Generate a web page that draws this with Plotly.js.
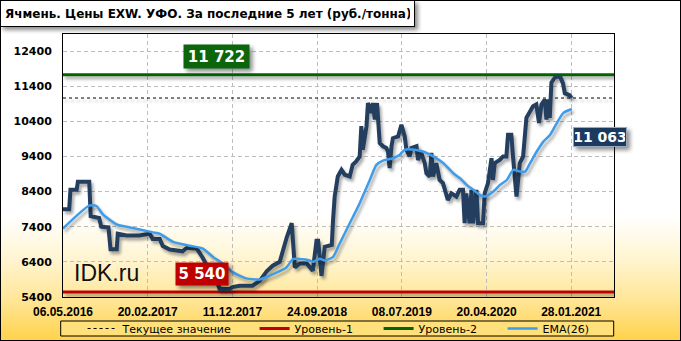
<!DOCTYPE html>
<html>
<head>
<meta charset="utf-8">
<script src="https://cdn.plot.ly/plotly-3.0.1.min.js"></script>
<style>
  html, body { margin: 0; padding: 0; }
  #wrap { position: relative; width: 681px; height: 341px;
    background: linear-gradient(to bottom, #ffffff 0px, #ffffff 215px, #fff6d6 255px, #ffe697 300px, #ffd24a 341px); }
  #chart { width: 681px; height: 341px; }
  #frame { position: absolute; left: 0; top: 0; width: 681px; height: 341px; box-sizing: border-box;
    border: 1px solid #000; pointer-events: none; }
  .scatterlayer .trace path.js-line { filter: drop-shadow(2px 3px 1.5px rgba(0,0,0,0.35)); }
  .annotation .bg { filter: drop-shadow(3px 3px 2px rgba(0,0,0,0.45)); }
</style>
</head>
<body>
<div id="wrap"><div id="chart"></div><div id="frame"></div></div>
<script>
// ---- data (x = weekly index from 06.05.2016) ----
const priceWeeks = [0,3.0,3.6,6.6,7.2,12.7,13.4,17.5,18.5,22,23,26,26.5,30.8,37,42,43.4,46.8,48.3,51.7,57.9,60,64.7,67.6,71,74.4,75.8,80.7,82.1,85.5,91.8,95.2,98.6,101.5,104.9,106.3,108.3,110.7,112.2,114.6,118,120.9,122.7,123.5,125.1,126.7,130.1,130.7,131.5,133,134.8,136.4,138.8,140.2,141.8,143.6,144.4,145.1,146.9,147.6,149.3,150,150.9,152,153.3,154.9,156.5,157.3,158.1,159,159.7,162.2,163.8,165.4,166.2,167.8,168.6,171.1,171.8,173.4,175.1,175.9,177.5,178.3,179.1,180.7,182.3,183.9,184.8,185.6,186.3,188,190.4,192,193.6,194.4,195.2,196.8,197.7,198.5,200.1,200.9,203.3,204.1,205.7,207.4,208.1,209,211.4,213,214.6,215.4,217,217.8,219.5,221.1,222.7,224.3,225.9,227.5,229.1,230.4,231.6,233.2,234,234.8,235.6,236.4,238,239.6,240.8,242,242.9,245.3,246.1];
const priceValues = [7900,7900,8450,8450,8680,8680,7700,7650,7400,7380,6760,6760,7200,7150,7150,7200,7050,7050,6850,6750,6700,6800,6780,6520,6140,5860,5630,5630,5680,5720,5720,5860,6130,6290,6400,6700,7100,7500,6240,6350,6350,6150,7000,7000,6000,6830,6880,7590,8260,8830,9020,8880,8830,9160,9250,9400,10260,9590,10260,10920,10640,10920,10450,10920,9780,9690,9640,9540,9070,9690,9920,9970,10300,9970,9600,9400,9640,9690,9300,9500,9210,8920,8830,9500,8830,9210,8730,8640,8450,8210,8160,8350,8260,8450,8450,7500,8350,7500,8450,7500,8450,7500,7500,8350,8640,9350,8730,9210,9300,9400,9400,10020,10020,9400,8260,9210,9400,10500,10640,10830,10880,10350,10880,11020,10450,11020,10500,11500,11640,11680,11650,11480,11200,11140,11063];
const emaWeeks = [0,12.7,16.2,19.2,25.9,30.8,43.6,46.8,53.3,61.3,67.7,72.6,77.4,82.3,88.7,95.2,101.6,108.1,111.3,114.6,119.4,121,124.3,126.7,130.7,133.9,138.8,143.6,148.5,151.7,154.9,159.8,163,165.4,170.3,174.3,179.2,184.1,188.9,192.2,195.4,198.6,201.9,204.3,208.3,211.5,214.8,218,221.2,223.7,226.1,229.3,232.6,235.8,239,242.2,246.3];
const emaValues = [7350,8000,7990,7760,7470,7400,7240,7200,6970,6860,6780,6540,6350,6100,5930,5900,6050,6240,6480,6480,6440,6400,6490,6440,6540,6920,7500,8070,8730,9160,9280,9350,9450,9590,9590,9540,9400,9210,8920,8780,8590,8450,8300,8260,8400,8590,8730,9020,8970,8970,9210,9540,9830,10020,10350,10640,10750];
const tickWeeks = [0,41,82,123,164,205,246];
const tickLabels = ["06.05.2016","20.02.2017","11.12.2017","24.09.2018","08.07.2019","20.04.2020","28.01.2021"];
const yTicks = [5400,6400,7400,8400,9400,10400,11400,12400];
const level1 = 5540, level2 = 11722, currentValue = 11063;
const xMax = 266.7, yMin = 5400, yMax = 12885;
const seriesNames = ["Текущее значение","Уровень-1","Уровень-2","EMA(26)"];
const titleText = "Ячмень. Цены EXW. УФО. За последние 5 лет (руб./тонна)";
const fmt = v => String(v).replace(/\B(?=(\d{3})+(?!\d))/g, " ");

// ---- geometry helpers (pixels -> paper) ----
const W = 681, H = 341, mL = 63, mR = 67, mT = 34, mB = 44;
const pw = W - mL - mR, ph = H - mT - mB;
const px = x => (x - mL) / pw;
const py = y => (H - mB - y) / ph;

const traces = [
  {x:[0,xMax], y:[currentValue,currentValue], mode:'lines', name:seriesNames[0],
   line:{color:'#000', width:1, dash:'3px,3px'}, legendwidth:127, hoverinfo:'skip'},
  {x:[0,xMax], y:[level1,level1], mode:'lines', name:seriesNames[1],
   line:{color:'#C00000', width:3}, legendwidth:79, hoverinfo:'skip'},
  {x:[0,xMax], y:[level2,level2], mode:'lines', name:seriesNames[2],
   line:{color:'#006400', width:3}, legendwidth:79, hoverinfo:'skip'},
  {x:priceWeeks, y:priceValues, mode:'lines', showlegend:false,
   line:{color:'#233E5F', width:4, shape:'linear'}},
  {x:emaWeeks, y:emaValues, mode:'lines', name:seriesNames[3],
   line:{color:'#3E9CEB', width:2.5, shape:'spline', smoothing:0.6}}
];

const boxFont = {family:'DejaVu Sans', size:15, color:'#fff', weight:'bold'};
const layout = {
  width:W, height:H,
  margin:{l:mL, r:mR, t:mT, b:mB, pad:0, autoexpand:false},
  paper_bgcolor:'rgba(0,0,0,0)', plot_bgcolor:'rgba(0,0,0,0)',
  showlegend:true,
  xaxis:{range:[0,xMax], tickmode:'array', tickvals:tickWeeks, ticktext:tickLabels,
    showgrid:true, gridcolor:'#BDBDBD', griddash:'4px,3px', gridwidth:1,
    showline:true, linecolor:'#000', linewidth:1, mirror:true, zeroline:false,
    ticks:'', ticklabelstandoff:4, automargin:false,
    tickfont:{family:'Liberation Sans', size:12, color:'#000', weight:'bold'}},
  yaxis:{range:[yMin,yMax], tickmode:'array', tickvals:yTicks, ticktext:yTicks.map(String),
    showgrid:true, gridcolor:'#BDBDBD', griddash:'4px,3px', gridwidth:1,
    showline:true, linecolor:'#000', linewidth:1, mirror:true, zeroline:false,
    ticks:'', ticklabelstandoff:8, automargin:false,
    tickfont:{family:'DejaVu Sans', size:11, color:'#000', weight:'bold'}},
  yaxis2:{range:[yMin,yMax], overlaying:'y', side:'right', tickmode:'array', tickvals:yTicks,
    ticktext:yTicks.map(String), showgrid:false, zeroline:false, showline:false, ticks:'',
    ticklabelstandoff:8, automargin:false,
    tickfont:{family:'DejaVu Sans', size:11, color:'#000', weight:'bold'}},
  legend:{orientation:'h', x:px(82.6), xanchor:'left', y:py(328.5), yanchor:'middle',
    bgcolor:'rgba(0,0,0,0)', borderwidth:0,
    font:{family:'DejaVu Sans', size:11, color:'#000'}, itemclick:false},
  shapes:[
    {type:'rect', xref:'paper', yref:'paper', x0:px(60.7), x1:px(613.7), y0:py(336), y1:py(321),
     fillcolor:'#FFE07A', line:{color:'#000', width:1}, layer:'above'}
  ],
  annotations:[
    {xref:'paper', yref:'paper', x:px(0), y:py(0), xanchor:'left', yanchor:'top', showarrow:false,
     text:titleText, align:'left', width:405, height:17, borderpad:4, borderwidth:1,
     bordercolor:'#000', bgcolor:'#fff',
     font:{family:'DejaVu Sans', size:12, color:'#000', weight:'bold'}},
    {xref:'paper', yref:'paper', x:px(216.3), y:py(56.7), xanchor:'center', yanchor:'middle', showarrow:false,
     text:fmt(level2), width:61, height:19, borderpad:2, bgcolor:'#0B650B', font:boxFont},
    {xref:'paper', yref:'paper', x:px(202), y:py(274), xanchor:'center', yanchor:'middle', showarrow:false,
     text:fmt(level1), width:48, height:18, borderpad:2, bgcolor:'#C00000', font:boxFont},
    {xref:'paper', yref:'paper', x:px(600), y:py(137), xanchor:'center', yanchor:'middle', showarrow:false,
     text:fmt(currentValue), width:50, height:16, borderpad:1, borderwidth:1, bordercolor:'#9AA9BD',
     bgcolor:'#1C3A5E', font:{family:'DejaVu Sans', size:14, color:'#fff', weight:'bold'}},
    {xref:'paper', yref:'paper', x:px(72), y:py(273), xanchor:'left', yanchor:'middle', showarrow:false,
     text:'IDK.ru', font:{family:'Liberation Sans', size:23, color:'#111'}}
  ]
};

Plotly.newPlot('chart', traces, layout, {staticPlot:true, displayModeBar:false});
</script>
</body>
</html>
